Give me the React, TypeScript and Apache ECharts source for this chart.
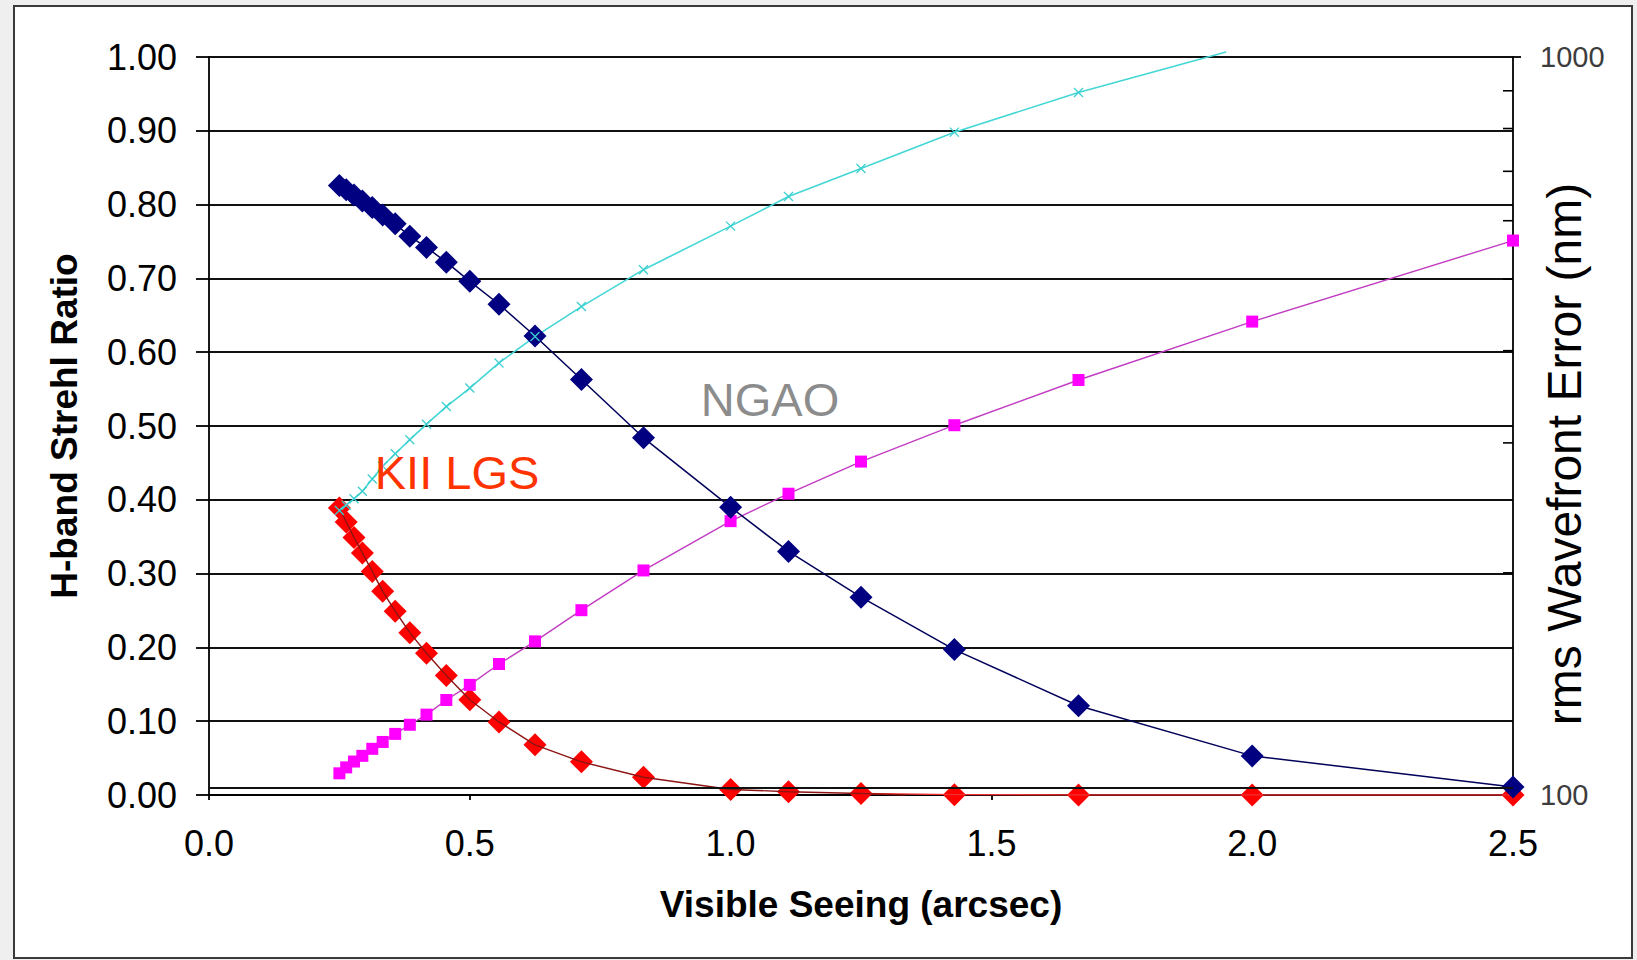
import React, { useEffect, useRef } from "react";
import * as echarts from "echarts";

// Visible seeing (arcsec) sample positions
const seeing = [0.25, 0.263, 0.278, 0.294, 0.313, 0.333, 0.357, 0.385, 0.417, 0.455, 0.5, 0.556, 0.625, 0.714, 0.833, 1.0, 1.111, 1.25, 1.429, 1.667, 2.0, 2.5];

// H-band Strehl ratio (left axis)
const ngaoStrehl = [0.826, 0.82, 0.813, 0.805, 0.796, 0.786, 0.774, 0.757, 0.742, 0.722, 0.696, 0.665, 0.622, 0.563, 0.484, 0.39, 0.33, 0.268, 0.197, 0.121, 0.053, 0.011];
const kiiStrehl = [0.389, 0.37, 0.349, 0.328, 0.303, 0.276, 0.249, 0.22, 0.192, 0.162, 0.129, 0.099, 0.068, 0.045, 0.024, 0.0075, 0.0045, 0.002, 0.0005, 0.0, 0.0, 0.0];
const kiiTrendEnd = [1.335, 0.0];

// rms wavefront error in nm (right, log axis)
const ngaoWfe = [107, 109, 111, 113, 115.5, 118, 121, 124.5, 128.5, 134.5, 141, 150.5, 161.5, 178, 201.5, 235, 256, 283, 317, 365, 438, 564];
const kiiWfe = [243, 247, 252, 258, 268, 279, 290, 303, 318, 336, 356, 385, 418, 459, 515, 590, 647, 706, 791, 895];
const kiiWfeEnd = [1.95, 1016];

const wfeMinorTicks = [200, 300, 400, 500, 600, 700, 800, 900];
const xMin = 0;
const xMax = 2.5;
const xStep = 0.5;
const strehlMin = 0;
const strehlMax = 1;
const strehlStep = 0.1;
const wfeMin = 100;
const wfeMax = 1000;
const bottomRefLine = 0.0105;

const FONT = "'Liberation Sans', Arial, Helvetica, sans-serif";

export default function App() {
  const ref = useRef<HTMLDivElement>(null);

  useEffect(() => {
    if (!ref.current) return;
    const chart = echarts.init(ref.current, null, { renderer: "svg" });

    const pairs = (xs: number[], ys: number[]) => ys.map((y, i) => [xs[i], y]);
    const black = { color: "#000", width: 1.8 };

    const option: any = {
      animation: false,
      backgroundColor: "#efefef",
      textStyle: { fontFamily: FONT },
      grid: { left: 209, right: 124, top: 57, bottom: 165, containLabel: false },
      graphic: [
        {
          type: "rect",
          z: -100,
          silent: true,
          shape: { x: 14, y: 6, width: 1618, height: 952 },
          style: { fill: "#ffffff", stroke: "#3a3a3a", lineWidth: 2 },
        },
        {
          type: "text",
          z: 100,
          x: 770,
          y: 399,
          style: { text: "NGAO", fontSize: 47, fontFamily: FONT, fill: "#8c8c8c", align: "center", verticalAlign: "middle" },
        },
        {
          type: "text",
          z: 100,
          x: 457,
          y: 472,
          style: { text: "KII LGS", fontSize: 47, fontFamily: FONT, fill: "#ff3300", align: "center", verticalAlign: "middle" },
        },
        {
          type: "text",
          z: 100,
          x: 1564,
          y: 454,
          rotation: Math.PI / 2,
          style: { text: "rms Wavefront Error (nm)", fontSize: 48, fontFamily: FONT, fill: "#000", align: "center", verticalAlign: "middle" },
        },
      ],
      xAxis: {
        type: "value",
        min: xMin,
        max: xMax,
        interval: xStep,
        name: "Visible Seeing (arcsec)",
        nameLocation: "middle",
        nameGap: 91,
        nameTextStyle: { fontSize: 37, fontWeight: "bold", color: "#000", fontFamily: FONT },
        axisLine: { show: true, onZero: false, lineStyle: black },
        axisTick: { show: true, length: 5, lineStyle: black },
        axisLabel: { fontSize: 36, color: "#000", margin: 30, fontFamily: FONT, formatter: (v: number) => v.toFixed(1) },
        splitLine: { show: false },
      },
      yAxis: [
        {
          type: "value",
          position: "left",
          min: strehlMin,
          max: strehlMax,
          interval: strehlStep,
          name: "H-band Strehl Ratio",
          nameLocation: "middle",
          nameRotate: 90,
          nameGap: 126,
          nameTextStyle: { fontSize: 37, fontWeight: "bold", color: "#000", fontFamily: FONT },
          axisLine: { show: true, lineStyle: black },
          axisTick: { show: true, length: 13, lineStyle: black },
          axisLabel: { fontSize: 36, color: "#000", margin: 32, fontFamily: FONT, formatter: (v: number) => v.toFixed(2) },
          splitLine: { show: true, lineStyle: { color: "#111111", width: 1.9 } },
        },
        {
          type: "log",
          logBase: 10,
          position: "right",
          min: wfeMin,
          max: wfeMax,
          axisLine: { show: true, lineStyle: black },
          axisTick: { show: true, length: 8, lineStyle: black },
          axisLabel: { fontSize: 29, color: "#3c3c3c", margin: 27, fontFamily: FONT, formatter: (v: number) => String(Math.round(v)) },
          splitLine: { show: false },
        },
      ],
      series: [
        {
          name: "NGAO wavefront error",
          type: "line",
          yAxisIndex: 1,
          data: pairs(seeing, ngaoWfe),
          symbol: "rect",
          symbolSize: 12,
          itemStyle: { color: "#ff00ff" },
          lineStyle: { color: "#c23cc2", width: 1.4 },
        },
        {
          name: "NGAO Strehl",
          type: "line",
          yAxisIndex: 0,
          data: pairs(seeing, ngaoStrehl),
          symbol: "diamond",
          symbolSize: 23,
          itemStyle: { color: "#000080" },
          lineStyle: { color: "#00005a", width: 1.5 },
          markLine: {
            silent: true,
            symbol: "none",
            label: { show: false },
            lineStyle: { color: "#111111", width: 1.9, type: "solid" },
            data: [{ yAxis: bottomRefLine }],
          },
        },
        {
          name: "KII LGS Strehl tail",
          type: "line",
          yAxisIndex: 0,
          data: pairs(seeing, kiiStrehl).slice(17),
          symbol: "none",
          lineStyle: { color: "#f03030", width: 1.4 },
        },
        {
          name: "KII LGS Strehl trend",
          type: "line",
          yAxisIndex: 0,
          data: pairs(seeing, kiiStrehl).slice(0, 18).concat([kiiTrendEnd]),
          symbol: "none",
          lineStyle: { color: "#8e1414", width: 1.4 },
        },
        {
          name: "KII LGS Strehl",
          type: "scatter",
          yAxisIndex: 0,
          data: pairs(seeing, kiiStrehl),
          symbol: "diamond",
          symbolSize: 23,
          itemStyle: { color: "#ff0000", opacity: 1 },
        },
        {
          name: "KII LGS wavefront error",
          type: "line",
          yAxisIndex: 1,
          clip: false,
          data: (pairs(seeing, kiiWfe) as any[]).concat([{ value: kiiWfeEnd, symbol: "none" }]),
          symbol: "path://M0,0L10,10M10,0L0,10",
          symbolSize: 9,
          itemStyle: { color: "#3ccfcf", borderColor: "#3ccfcf", borderWidth: 1.3 },
          lineStyle: { color: "#44d6d6", width: 1.6 },
        },
        {
          name: "wfe minor ticks",
          type: "custom",
          yAxisIndex: 1,
          silent: true,
          z: 5,
          data: wfeMinorTicks.map((v) => [xMax, v]),
          renderItem: (_params: any, api: any) => {
            const p = api.coord([api.value(0), api.value(1)]);
            return {
              type: "line",
              shape: { x1: p[0] - 10, y1: p[1], x2: p[0], y2: p[1] },
              style: { stroke: "#000", lineWidth: 1.6 },
            };
          },
        },
      ],
    };

    chart.setOption(option);
    return () => chart.dispose();
  }, []);

  return <div ref={ref} style={{ position: "fixed", left: 0, top: 0, width: 1637, height: 960 }} />;
}
